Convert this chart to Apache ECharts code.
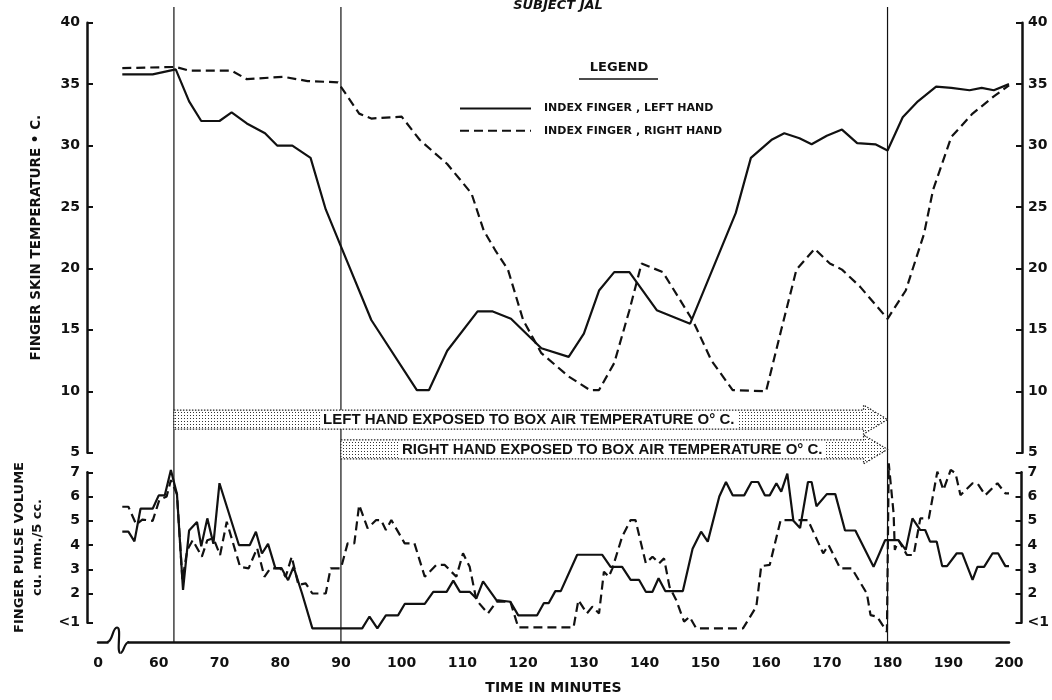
<!DOCTYPE html>
<html><head><meta charset="utf-8">
<script src="https://cdn.jsdelivr.net/npm/echarts@6/dist/echarts.min.js"></script>
<style>html,body{margin:0;padding:0;background:#fff}#c{width:1052px;height:700px}</style>
</head><body><div id="c"></div>
<script>
// ---- data (minutes, value) ----
const seriesNames = ['INDEX FINGER , LEFT HAND', 'INDEX FINGER , RIGHT HAND'];

const leftTemp = [[54,35.8],[59,35.8],[62.8,36.2],[65,33.6],[67,32],[70,32],[72,32.7],[74.5,31.8],[77.5,31],[79.5,30],[82,30],[85,29],[87.5,24.8],[90,21.8],[95,15.8],[102.5,10.1],[104.5,10.1],[107.5,13.3],[112.5,16.5],[115,16.5],[118,15.9],[123,13.5],[127.5,12.8],[130,14.7],[132.5,18.2],[135,19.7],[137.5,19.7],[142,16.6],[147.5,15.5],[155,24.5],[157.5,29],[161,30.5],[163,31],[165.5,30.6],[167.5,30.1],[170,30.8],[172.5,31.3],[175,30.2],[178,30.1],[180,29.6],[182.5,32.3],[185,33.6],[188,34.8],[190.5,34.7],[193.5,34.5],[195.5,34.7],[197.5,34.5],[200,35]];

const rightTemp = [[54,36.3],[62.8,36.4],[65,36.1],[72,36.1],[74.5,35.4],[80.5,35.6],[84.5,35.25],[89.5,35.15],[93,32.6],[95,32.2],[100,32.35],[103,30.45],[107.5,28.5],[111.5,26.1],[113.5,23.1],[115.5,21.4],[117.5,19.9],[120,15.8],[123,13.1],[127.5,11.2],[131,10.1],[132.5,10.1],[135,12.3],[137.5,16.6],[139.5,20.4],[143,19.7],[145.5,17.7],[148,15.7],[151,12.5],[154.5,10.1],[160,10],[162.5,15],[165,19.9],[168,21.6],[170.5,20.4],[172.5,19.9],[175.5,18.5],[180,15.9],[183,18.2],[186,22.8],[187.5,26.4],[190.5,30.7],[194,32.6],[197.5,34],[200,34.9]];

const leftPulse = [[54,4.55],[55,4.55],[56,4.15],[57,5.5],[59,5.5],[60,6.05],[61,6.05],[62,7.1],[63,6.1],[64,2.15],[65,4.6],[66.3,4.95],[67,3.95],[68,5.1],[69,4.05],[70,6.55],[73.2,4.0],[75,4.0],[76,4.55],[77,3.65],[78,4.05],[79.2,3.05],[80.2,3.05],[81.3,2.55],[82.2,3.1],[83.6,2.0],[85.3,0.56],[93.5,0.56],[94.7,1.05],[96,0.56],[97.4,1.1],[99.4,1.1],[100.5,1.57],[103.8,1.57],[105.2,2.07],[107.4,2.07],[108.5,2.53],[109.6,2.07],[111.2,2.07],[112.3,1.8],[113.4,2.5],[115.6,1.73],[117.9,1.66],[119.2,1.1],[122.3,1.1],[123.4,1.6],[124.2,1.6],[125.3,2.1],[126.2,2.1],[128.9,3.6],[133,3.6],[134.4,3.1],[136.3,3.1],[137.7,2.56],[139.1,2.56],[140.2,2.07],[141.3,2.07],[142.3,2.63],[143.4,2.1],[146.3,2.1],[147.9,3.85],[149.3,4.55],[150.4,4.14],[152.3,6.0],[153.4,6.6],[154.5,6.05],[156.4,6.05],[157.6,6.6],[158.7,6.6],[159.8,6.05],[160.6,6.05],[161.7,6.55],[162.5,6.2],[163.5,6.95],[164.5,5.0],[165.6,4.7],[166.9,6.6],[167.5,6.6],[168.3,5.6],[170,6.1],[171.4,6.1],[173,4.6],[174.7,4.6],[177.7,3.1],[179.6,4.2],[181.8,4.2],[183,3.8],[184.1,5.1],[185.4,4.62],[186.2,4.62],[187,4.14],[188.1,4.14],[189,3.13],[189.8,3.13],[191.4,3.66],[192.3,3.66],[194,2.56],[194.8,3.1],[195.9,3.1],[197.3,3.66],[198.2,3.66],[199.4,3.13],[200,3.13]];

const rightPulse = [[54,5.58],[55,5.58],[56.3,4.85],[57.3,5.05],[59,5.0],[60.1,5.86],[61.3,6.0],[62,6.68],[63,6.1],[63.9,2.56],[64.7,3.8],[65.6,4.2],[67.1,3.52],[68,4.2],[69,4.28],[70.1,3.59],[71.2,4.96],[73.4,3.1],[74.8,3.04],[76.2,3.87],[77.4,2.69],[78.4,3.04],[80,3.04],[80.9,2.69],[81.9,3.52],[83,2.35],[84.2,2.42],[85.3,2.0],[87.5,2.0],[88.3,3.04],[90,3.04],[91.1,4.07],[92.2,4.07],[93,5.65],[94.4,4.69],[95.8,5.03],[96.6,5.03],[97.4,4.62],[98.3,5.03],[100.5,4.07],[102.1,4.07],[103.8,2.69],[105.7,3.18],[107.1,3.18],[109,2.69],[110.1,3.66],[111.2,3.1],[112.3,1.73],[114.2,1.18],[115.6,1.66],[117.9,1.66],[119.2,0.6],[128.3,0.6],[129.1,1.73],[130.5,1.18],[131.4,1.46],[132.5,1.18],[133.3,2.9],[134.1,2.69],[134.7,3.04],[136.3,4.34],[137.7,5.03],[138.5,5.03],[140.2,3.25],[141.3,3.52],[142.4,3.25],[143.2,3.45],[144.1,2.28],[145.2,1.73],[146.5,0.84],[147.4,1.04],[148.5,0.56],[156.2,0.56],[158.4,1.46],[159.2,3.13],[160.6,3.18],[162.4,5.03],[166.9,5.03],[169.4,3.66],[170.3,4.0],[172.2,3.04],[174.1,3.04],[176.6,2.0],[177.2,1.11],[178.3,1.04],[179.9,0.42],[180.2,7.37],[181,5.3],[181.2,3.8],[181.8,4.2],[183.2,3.59],[184.3,3.59],[185.4,5.1],[186.8,5.1],[188.2,7.03],[189.2,6.27],[190.4,7.1],[191.2,6.96],[192,6.06],[194,6.55],[194.8,6.55],[196.1,6.06],[198.1,6.55],[199.4,6.13],[200,6.13]];

const eventMinutes = [62.5, 90, 180];
const exposureStart = [62.5, 90];
const exposureEnd = [180, 180];
const exposureText = ['LEFT HAND EXPOSED TO BOX AIR TEMPERATURE O° C.', 'RIGHT HAND EXPOSED TO BOX AIR TEMPERATURE O° C.'];
const pulseTicks = [0.8, 2, 3, 4, 5, 6, 7];
const xBreakLabel = '0';

// ---- rendering ----
const INK = '#111';
const F = 'DejaVu Sans';
const chart = echarts.init(document.getElementById('c'), null, {renderer: 'canvas'});

const pc = document.createElement('canvas');
pc.width = 3; pc.height = 3;
const pctx = pc.getContext('2d');
pctx.fillStyle = '#fff'; pctx.fillRect(0, 0, 3, 3);
pctx.fillStyle = '#333'; pctx.fillRect(1, 1, 1, 1);
const dots = {image: pc, repeat: 'repeat'};

const arrowLevels = [7.7, 5.27];

const axisLabelStyle = {color: INK, fontSize: 14, fontWeight: 'bold', fontFamily: F};
const G = {left: 98, right: 43};

const xHidden = (gi) => ({gridIndex: gi, type: 'value', min: 50, max: 200, show: false});

const option = {
  animation: false,
  backgroundColor: '#fff',
  title: {text: 'SUBJECT JAL', left: 553, top: -6, textAlign: 'center',
    textStyle: {fontFamily: F, fontStyle: 'italic', fontWeight: 'bold', fontSize: 13, color: INK}},
  legend: {orient: 'vertical', left: 459, top: 103, padding: 0, itemWidth: 71, itemHeight: 14, itemGap: 11,
    data: seriesNames, selectedMode: false,
    itemStyle: {opacity: 0},
    textStyle: {fontFamily: F, fontSize: 11, fontWeight: 'bold', color: INK, padding: [0, 0, 0, 8]}},
  grid: [
    {left: G.left, right: G.right, top: 22.7, height: 430},
    {left: G.left, right: G.right, top: 460.2, height: 181.8},
    {left: G.left, right: G.right, top: 472.3, height: 150.4},
    {left: G.left, right: G.right, top: 7, height: 635}
  ],
  xAxis: [
    xHidden(0),
    {gridIndex: 1, type: 'value', min: 50, max: 200, interval: 10,
      axisLine: {show: true, lineStyle: {color: INK, width: 2.5}},
      axisTick: {show: false}, splitLine: {show: false},
      axisLabel: Object.assign({margin: 14, showMinLabel: true, showMaxLabel: true,
        formatter: v => v === 50 ? xBreakLabel : String(v)}, axisLabelStyle),
      name: 'TIME IN MINUTES', nameLocation: 'middle', nameGap: 39,
      nameTextStyle: {fontFamily: F, fontSize: 14, fontWeight: 'bold', color: INK}},
    xHidden(2),
    xHidden(3)
  ],
  yAxis: [
    {gridIndex: 0, type: 'value', min: 5, max: 40, interval: 5, position: 'left', offset: 11,
      axisLine: {show: true, lineStyle: {color: INK, width: 2.5}},
      axisTick: {show: true, inside: true, length: 6, lineStyle: {color: INK, width: 2}},
      axisLabel: Object.assign({margin: 7}, axisLabelStyle), splitLine: {show: false},
      name: 'FINGER SKIN TEMPERATURE • C.', nameLocation: 'middle', nameRotate: 90, nameGap: 44,
      nameTextStyle: {fontFamily: F, fontSize: 13.5, fontWeight: 'bold', color: INK}},
    {gridIndex: 0, type: 'value', min: 5, max: 40, interval: 5, position: 'right', offset: 13,
      axisLine: {show: true, lineStyle: {color: INK, width: 2.5}},
      axisTick: {show: true, inside: true, length: 6, lineStyle: {color: INK, width: 2}},
      axisLabel: Object.assign({margin: 6}, axisLabelStyle), splitLine: {show: false}},
    {gridIndex: 1, type: 'value', min: 0, max: 7.5, show: false},
    {gridIndex: 2, type: 'value', min: 0.8, max: 7, position: 'left', offset: 11,
      axisLine: {show: true, lineStyle: {color: INK, width: 2.5}},
      axisTick: {show: true, inside: true, length: 6, customValues: pulseTicks, lineStyle: {color: INK, width: 2}},
      axisLabel: Object.assign({margin: 7, customValues: pulseTicks, formatter: v => v < 1 ? '<1' : String(v)}, axisLabelStyle),
      splitLine: {show: false},
      name: 'FINGER PULSE VOLUME\ncu. mm./5 cc.', nameLocation: 'middle', nameRotate: 90, nameGap: 40,
      nameTextStyle: {fontFamily: F, fontSize: 13, fontWeight: 'bold', color: INK, lineHeight: 18}},
    {gridIndex: 2, type: 'value', min: 0.8, max: 7, position: 'right', offset: 13,
      axisLine: {show: true, lineStyle: {color: INK, width: 2.5}},
      axisTick: {show: true, inside: true, length: 6, customValues: pulseTicks, lineStyle: {color: INK, width: 2}},
      axisLabel: Object.assign({margin: 6, customValues: pulseTicks, formatter: v => v < 1 ? '<1' : String(v)}, axisLabelStyle),
      splitLine: {show: false}},
    {gridIndex: 3, type: 'value', min: 0, max: 1, show: false}
  ],
  series: [
    {name: seriesNames[0], type: 'line', xAxisIndex: 0, yAxisIndex: 0, data: leftTemp, symbol: 'none',
      lineStyle: {color: INK, width: 2.2}, itemStyle: {color: INK}},
    {name: seriesNames[1], type: 'line', xAxisIndex: 0, yAxisIndex: 0, data: rightTemp, symbol: 'none',
      lineStyle: {color: INK, width: 2.2, type: [9, 5]}, itemStyle: {color: INK}},
    {name: seriesNames[0], type: 'line', xAxisIndex: 1, yAxisIndex: 2, data: leftPulse, symbol: 'none',
      lineStyle: {color: INK, width: 2.2}, itemStyle: {color: INK}},
    {name: seriesNames[1], type: 'line', xAxisIndex: 1, yAxisIndex: 2, data: rightPulse, symbol: 'none',
      lineStyle: {color: INK, width: 2.2, type: [9, 5]}, itemStyle: {color: INK}},
    {type: 'custom', xAxisIndex: 3, yAxisIndex: 5, data: eventMinutes.map(m => [m, 0]), silent: true,
      renderItem: (params, api) => {
        const x = api.coord([api.value(0), 0])[0];
        const cs = params.coordSys;
        return {type: 'line', shape: {x1: x, y1: cs.y, x2: x, y2: cs.y + cs.height},
          style: {stroke: INK, lineWidth: 1.2}};
      }},
    {type: 'custom', xAxisIndex: 0, yAxisIndex: 0, clip: false, silent: true, z: 5,
      data: exposureStart.map((s, i) => [s, exposureEnd[i]]),
      encode: {x: [0, 1]},
      renderItem: (params, api) => {
        const i = params.dataIndex;
        const lvl = arrowLevels[i];
        const a = api.coord([api.value(0), lvl]);
        const b = api.coord([api.value(1), lvl]);
        const bh = 19, hh = 29, hl = 24;
        const x0 = a[0], x1 = b[0], yc = a[1], xh = x1 - hl;
        const pts = [[x0, yc - bh / 2], [xh, yc - bh / 2], [xh, yc - hh / 2], [x1, yc], [xh, yc + hh / 2], [xh, yc + bh / 2], [x0, yc + bh / 2]];
        return {type: 'group', children: [
          {type: 'polygon', shape: {points: pts}, style: {fill: dots, stroke: '#222', lineWidth: 1.2, lineDash: [1.5, 1.5]}},
          {type: 'text', x: (x0 + xh) / 2 + 10, y: yc, z2: 10,
            style: {text: exposureText[i], font: 'bold 15px "Liberation Sans"', fill: INK,
              align: 'center', verticalAlign: 'middle', textAlign: 'center', textVerticalAlign: 'middle',
              backgroundColor: '#fff', padding: [1, 3]}}
        ]};
      }}
  ],
  graphic: [
    {type: 'text', x: 619, y: 68, style: {text: 'LEGEND', font: 'bold 13px "DejaVu Sans"', fill: INK,
      align: 'center', verticalAlign: 'middle', textAlign: 'center', textVerticalAlign: 'middle'}},
    {type: 'line', shape: {x1: 579, y1: 79, x2: 658, y2: 79}, style: {stroke: INK, lineWidth: 1.6}},
    {type: 'rect', shape: {x: 108.5, y: 638, width: 19, height: 8}, style: {fill: '#fff'}, z: 100},
    {type: 'bezierCurve', z: 101, shape: {x1: 107, y1: 642, cpx1: 113, cpy1: 642, cpx2: 112, cpy2: 628, x2: 117, y2: 627.5},
      style: {stroke: INK, lineWidth: 2.2, fill: null}},
    {type: 'bezierCurve', z: 101, shape: {x1: 117, y1: 627.5, cpx1: 122, cpy1: 627, cpx2: 116, cpy2: 653, x2: 120.5, y2: 653},
      style: {stroke: INK, lineWidth: 2.2, fill: null}},
    {type: 'bezierCurve', z: 101, shape: {x1: 120.5, y1: 653, cpx1: 124, cpy1: 653, cpx2: 124, cpy2: 642, x2: 129, y2: 642},
      style: {stroke: INK, lineWidth: 2.2, fill: null}}
  ]
};
chart.setOption(option);
</script></body></html>
